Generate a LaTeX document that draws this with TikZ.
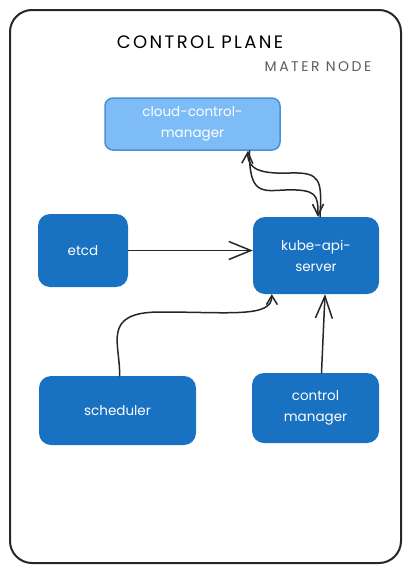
\documentclass[tikz,border=0pt]{standalone}
\usepackage{fontspec}
\setmainfont{Poppins}
\usepackage{xcolor}
\usepackage{tikz}
\usetikzlibrary{arrows.meta}

\definecolor{kubeblue}{HTML}{1971C2}
\definecolor{cloudblue}{HTML}{7DBCF6}
\definecolor{cloudedge}{HTML}{4A90D9}
\definecolor{notegray}{HTML}{5C5C5C}

\tikzset{
  comp/.style={fill=kubeblue, rounded corners=12pt, text=white, align=center,
    font=\fontsize{13.5}{21}\selectfont, inner sep=0pt},
  conn/.style={line width=1.5pt, color=black!85, line cap=round},
}

\begin{document}
\begin{tikzpicture}[x=1pt, y=-1pt]
    \useasboundingbox (0,0) rectangle (411,573);

    % Frame
    \node[draw=black!85, line width=2pt, rounded corners=22pt,
      minimum width=391pt, minimum height=553pt] (frame) at (205.5,286.5) {};
    \node[font=\fontsize{18}{18}\selectfont\addfontfeatures{LetterSpace=13}] (title) at (200,42) {CONTROL PLANE};
    \node[text=notegray, font=\fontsize{14}{14}\selectfont\addfontfeatures{LetterSpace=18}] (master) at (318,67) {MATER NODE};

    % Components
    \node[comp, fill=cloudblue, draw=cloudedge, line width=1.5pt, rounded corners=8pt,
      minimum width=175pt, minimum height=52pt] (ccm) at (192.5,124) {cloud-control-\\manager};
    \node[comp, minimum width=90pt, minimum height=73pt] (etcd) at (83,250.5) {etcd};
    \node[comp, minimum width=126pt, minimum height=77pt] (api) at (316,255.5) {kube-api-\\server};
    \node[comp, minimum width=157pt, minimum height=69pt] (sched) at (117.5,410.5) {scheduler};
    \node[comp, minimum width=127pt, minimum height=70pt] (cm) at (315.5,408) {control\\manager};

    % Arrows
    \draw[conn, -{Straight Barb[length=22pt,width=18pt]}] (etcd.east) -- (etcd.east -| api.west);
    \draw[conn, -{Straight Barb[length=22pt,width=17pt]}] ([xshift=6pt]cm.north) -- ([xshift=9pt]api.south);
    \draw[conn, -{Straight Barb[length=9pt,width=11pt]}] ([xshift=2pt]sched.north)
      .. controls (121,345) and (100,312) .. (160,312)
      .. controls (230,312) and (272,318) .. ([xshift=19pt]api.south west);
    \draw[conn, -{Straight Barb[length=11pt,width=11pt]}] ([xshift=4pt]api.north)
      .. controls (322,180) and (321,172) .. (290,173)
      .. controls (262,174) and (247,170) .. ([xshift=55.5pt]ccm.south);
    \draw[conn, -{Straight Barb[length=11pt,width=11pt]}] ([xshift=57pt]ccm.south)
      .. controls (249,195) and (262,191) .. (285,190)
      .. controls (317,189) and (318,195) .. ([xshift=2pt]api.north);
\end{tikzpicture}
\end{document}
